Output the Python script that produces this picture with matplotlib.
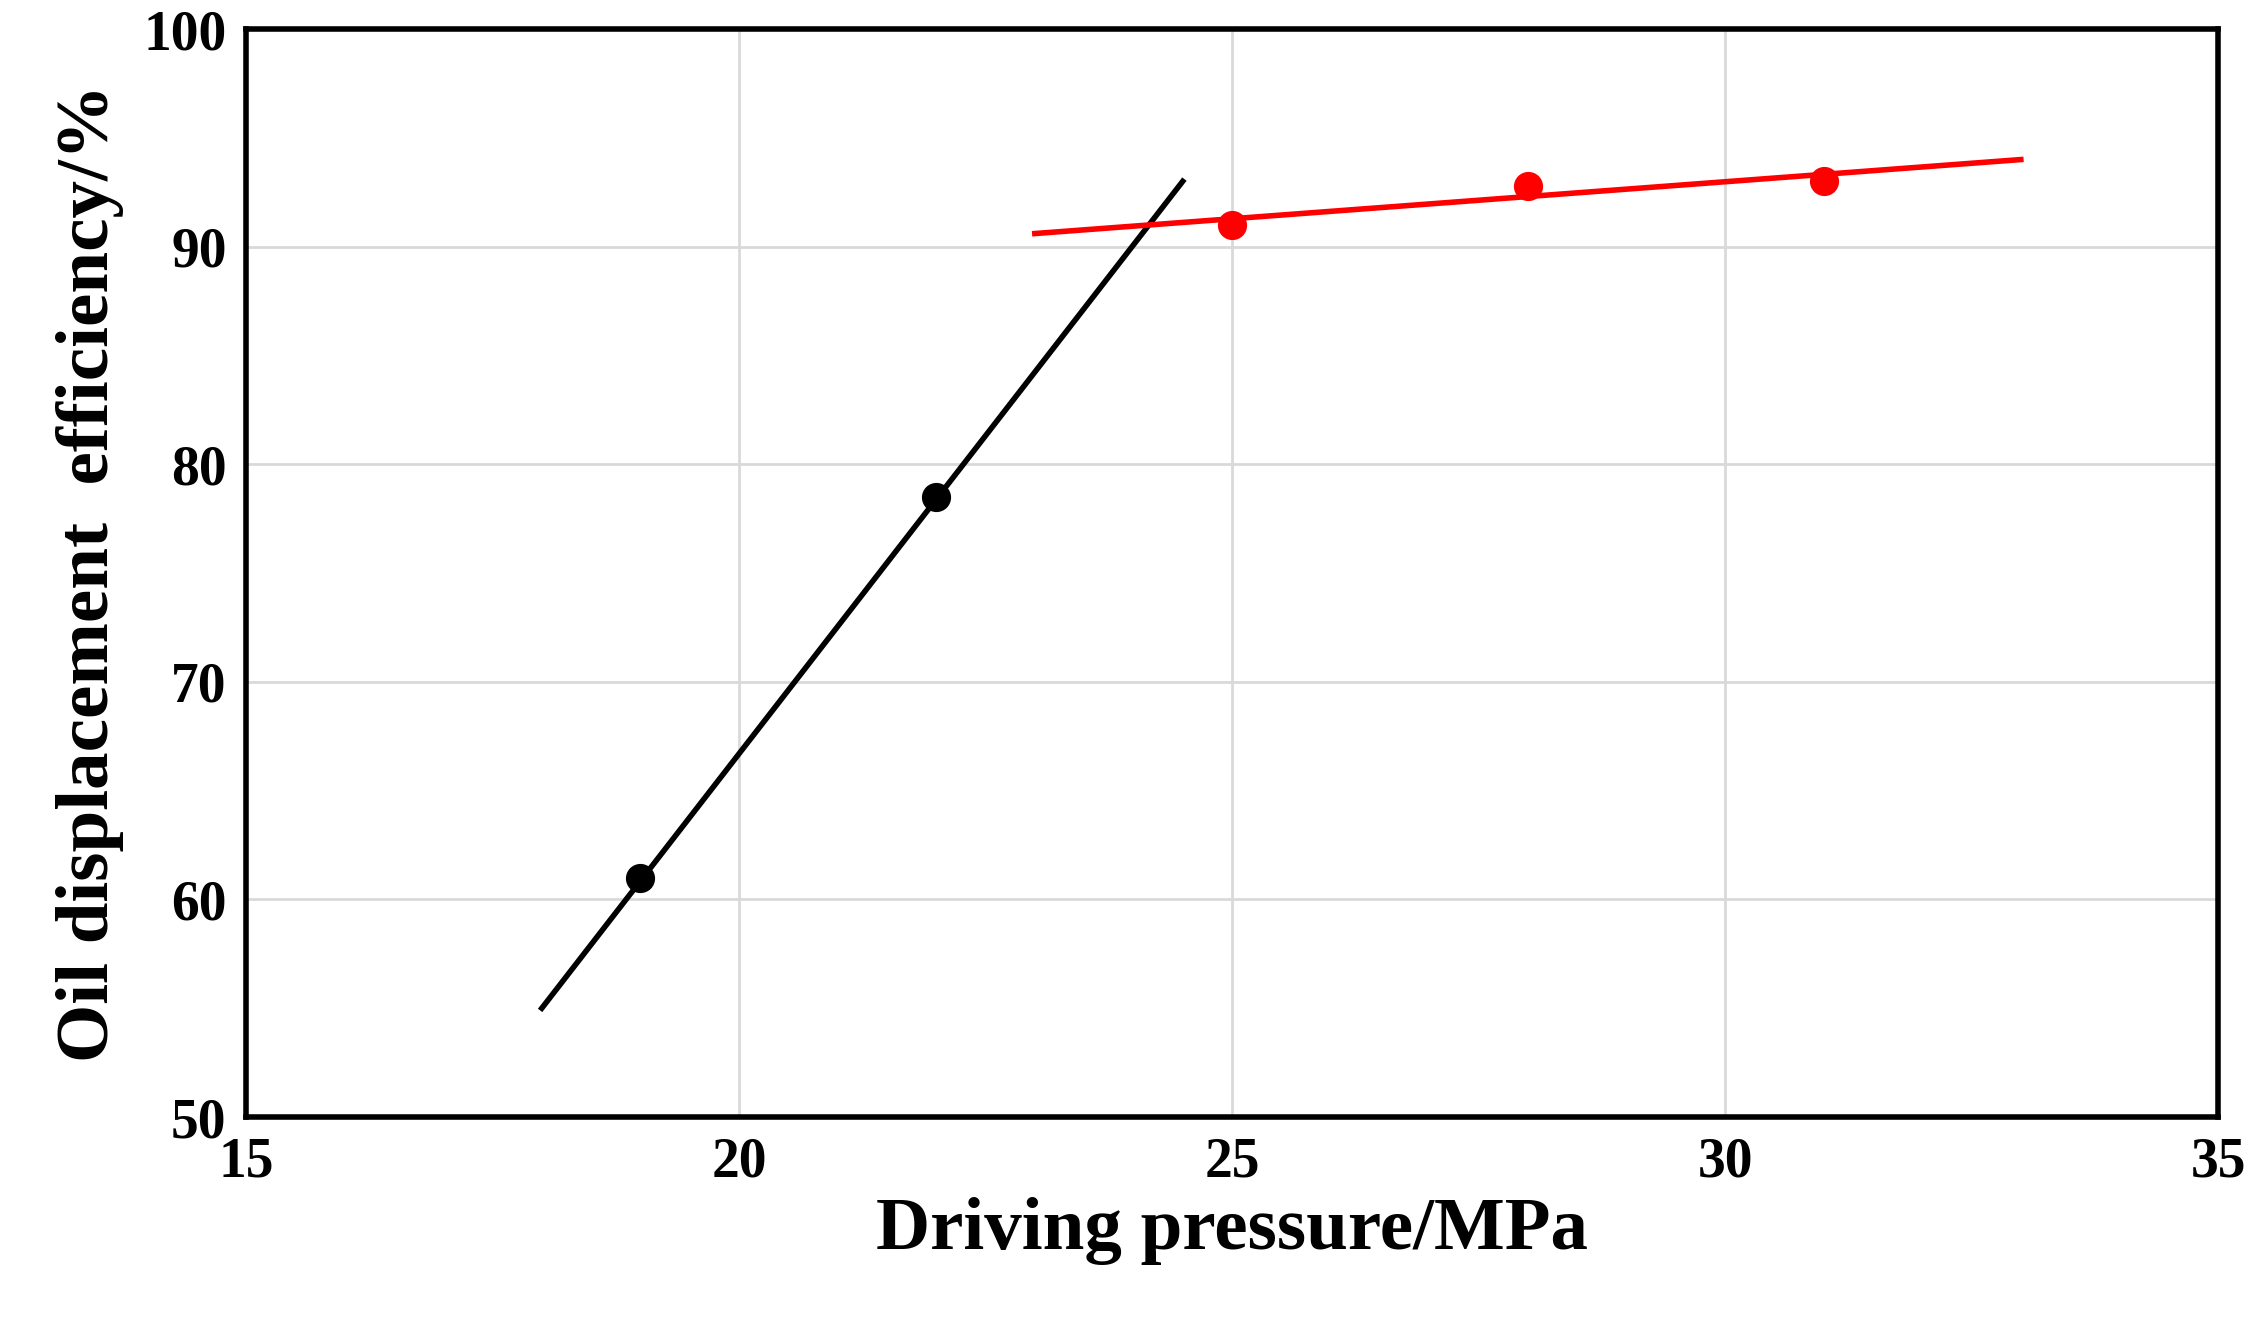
import matplotlib.pyplot as plt

# Data ------------------------------------------------------------------------
black_x = [19, 22]
black_y = [61, 78.5]
black_fit_x = [18, 24.5]
black_fit_y = [55, 93]
red_x = [25, 28, 31]
red_y = [91, 92.8, 93]
red_fit_x = [23, 33]
red_fit_y = [90.6, 94]
x_ticks = [15, 20, 25, 30, 35]
y_ticks = [50, 60, 70, 80, 90, 100]

plt.rcParams['font.family'] = ['Liberation Serif', 'DejaVu Serif']
plt.rcParams['font.weight'] = 'bold'

fig = plt.figure(figsize=(22.67, 13.21), dpi=100)
ax = fig.add_axes([246 / 2267, 1 - 1117 / 1321, (2218 - 246) / 2267, (1117 - 29) / 1321])

ax.plot(black_fit_x, black_fit_y, color='black', lw=4, zorder=3)
ax.plot(black_x, black_y, 'o', color='black', ms=20, zorder=4)
ax.plot(red_fit_x, red_fit_y, color='red', lw=4, zorder=3)
ax.plot(red_x, red_y, 'o', color='red', ms=20, zorder=4)

ax.set_xlim(15, 35)
ax.set_ylim(50, 100)
ax.set_xticks(x_ticks)
ax.set_yticks(y_ticks)
ax.grid(True, color='#d9d9d9', lw=2)
ax.set_axisbelow(True)
ax.tick_params(labelsize=40, length=0, pad=14)
for lab in ax.get_xticklabels() + ax.get_yticklabels():
    lab.set_fontweight('bold')
for sp in ax.spines.values():
    sp.set_linewidth(4)

ax.set_xlabel('Driving pressure/MPa', fontsize=54, fontweight='bold', labelpad=6)
ax.set_ylabel('Oil displacement  efficiency/%', fontsize=54, fontweight='bold', labelpad=14)

fig.savefig('out.png', dpi=100)
